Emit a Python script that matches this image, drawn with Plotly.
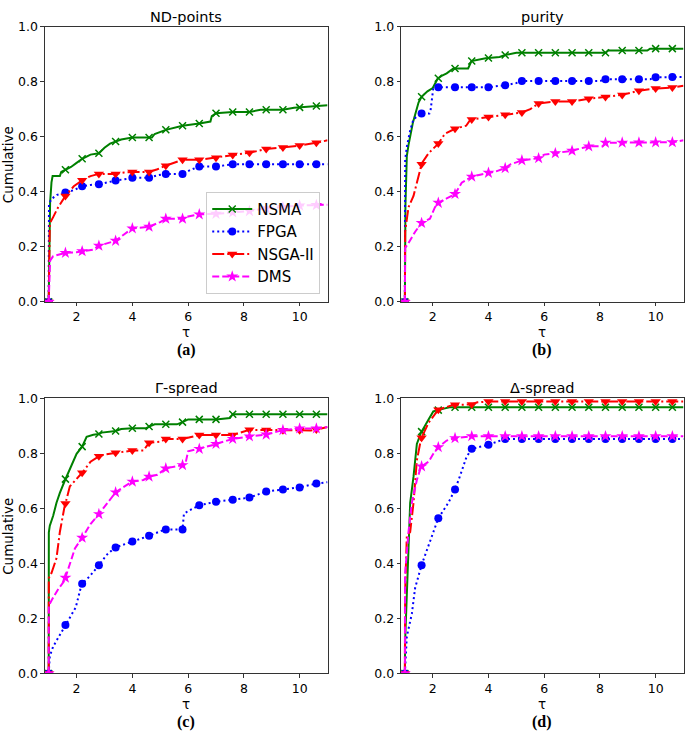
import numpy as np
import plotly.graph_objects as go

# ---------------- data ----------------
tick_x = [2, 4, 6, 8, 10]
tick_y = [0.0, 0.2, 0.4, 0.6, 0.8, 1.0]
series_names = ["NSMA", "FPGA", "NSGA-II", "DMS"]
panel_titles = ["ND-points", "purity", "Γ-spread", "Δ-spread"]
panel_tags = ["(a)", "(b)", "(c)", "(d)"]

# (a) ND-points
nd_nsma_tau = [1.0, 1.02, 1.05, 1.1, 1.14, 1.4, 1.45, 1.6, 1.8, 2.0, 2.2, 2.5, 2.8, 3.0, 3.2, 3.6, 4.0, 4.7, 4.8, 5.2,
               5.6, 5.8, 6.4, 6.8, 6.85, 7.0, 7.6, 8.2, 8.6, 9.4, 9.8, 10.4, 11.0]
nd_nsma = [0.0, 0.3, 0.36, 0.434, 0.457, 0.457, 0.472, 0.48, 0.49, 0.505, 0.52, 0.535, 0.54, 0.56, 0.575, 0.59, 0.597,
           0.597, 0.61, 0.625, 0.635, 0.64, 0.648, 0.655, 0.675, 0.685, 0.69, 0.69, 0.698, 0.698, 0.705, 0.71, 0.714]
nd_fpga_tau = [1.0, 1.01, 1.1, 1.3, 1.6, 1.9, 2.2, 2.5, 2.8, 3.1, 3.4, 3.8, 4.0, 4.6, 4.9, 5.2, 5.8, 6.1, 6.4, 7.0,
               7.3, 7.6, 11.0]
nd_fpga = [0.0, 0.356, 0.374, 0.389, 0.397, 0.406, 0.42, 0.425, 0.427, 0.435, 0.441, 0.447, 0.451, 0.451, 0.46, 0.465,
           0.465, 0.48, 0.492, 0.492, 0.497, 0.5, 0.5]
nd_nsga_tau = [1.0, 1.01, 1.04, 1.16, 1.34, 1.6, 1.9, 2.2, 2.5, 2.8, 3.4, 3.7, 4.0, 4.6, 4.9, 5.2, 5.6, 5.8, 6.4, 7.0,
               7.6, 8.2, 8.8, 9.4, 10.0, 10.6, 11.0]
nd_nsga = [0.0, 0.2, 0.285, 0.308, 0.344, 0.385, 0.42, 0.442, 0.457, 0.465, 0.465, 0.47, 0.472, 0.472, 0.482, 0.495,
           0.51, 0.516, 0.516, 0.524, 0.534, 0.542, 0.555, 0.561, 0.568, 0.578, 0.587]
nd_dms_tau = [1.0, 1.02, 1.05, 1.16, 1.6, 2.0, 2.2, 2.6, 2.8, 3.0, 3.4, 3.7, 4.0, 4.6, 5.0, 5.2, 5.8, 6.0, 6.4, 7.0,
              7.6, 8.2, 8.8, 9.4, 10.0, 11.0]
nd_dms = [0.0, 0.12, 0.15, 0.166, 0.178, 0.18, 0.184, 0.19, 0.204, 0.21, 0.222, 0.245, 0.267, 0.273, 0.29, 0.302,
          0.302, 0.31, 0.318, 0.32, 0.325, 0.33, 0.34, 0.345, 0.35, 0.353]

# (b) purity
pu_nsma_tau = [1.0, 1.02, 1.07, 1.13, 1.29, 1.49, 1.6, 1.81, 2.0, 2.17, 2.3, 2.5, 2.74, 3.27, 3.39, 3.9, 4.4, 4.6,
               5.0, 8.2, 8.3, 9.7, 9.8, 11.0]
pu_nsma = [0.0, 0.35, 0.53, 0.57, 0.652, 0.724, 0.745, 0.765, 0.777, 0.81, 0.82, 0.83, 0.848, 0.848, 0.875, 0.885,
           0.89, 0.897, 0.905, 0.905, 0.913, 0.913, 0.92, 0.92]
pu_fpga_tau = [1.0, 1.01, 1.07, 1.19, 1.31, 1.58, 1.88, 1.92, 2.02, 2.2, 4.0, 4.6, 5.0, 5.2, 8.0, 8.2, 9.8, 10.0, 11.0]
pu_fpga = [0.0, 0.516, 0.563, 0.623, 0.664, 0.684, 0.684, 0.694, 0.777, 0.78, 0.78, 0.787, 0.795, 0.802, 0.802,
           0.809, 0.809, 0.816, 0.817]
pu_nsga_tau = [1.0, 1.01, 1.13, 1.31, 1.61, 1.85, 2.2, 2.44, 2.8, 3.2, 3.35, 4.0, 4.6, 5.2, 5.5, 5.8, 6.4, 7.0, 7.6,
               8.2, 8.8, 9.4, 10.0, 10.6, 11.0]
pu_nsga = [0.0, 0.255, 0.344, 0.385, 0.504, 0.54, 0.575, 0.611, 0.629, 0.64, 0.662, 0.672, 0.68, 0.688, 0.70, 0.721,
           0.728, 0.728, 0.738, 0.744, 0.752, 0.767, 0.775, 0.779, 0.785]
pu_dms_tau = [1.0, 1.01, 1.13, 1.37, 1.61, 1.9, 2.08, 2.2, 2.5, 2.8, 3.04, 3.4, 3.7, 4.0, 4.3, 4.6, 4.8, 5.2, 5.8,
              6.0, 6.4, 7.0, 7.4, 7.6, 8.1, 8.2, 10.6, 11.0]
pu_dms = [0.0, 0.196, 0.214, 0.255, 0.288, 0.302, 0.344, 0.36, 0.376, 0.392, 0.433, 0.455, 0.462, 0.469, 0.475,
          0.486, 0.50, 0.514, 0.522, 0.535, 0.54, 0.549, 0.56, 0.565, 0.565, 0.578, 0.58, 0.587]

# (c) Gamma-spread
ga_nsma_tau = [1.0, 1.005, 1.04, 1.16, 1.28, 1.4, 1.58, 1.76, 2.0, 2.2, 2.36, 2.6, 2.8, 2.9, 3.4, 3.6, 4.0, 4.5, 4.6,
               4.8, 5.6, 5.8, 6.0, 7.0, 7.5, 7.6, 11.0]
ga_nsma = [0.0, 0.513, 0.537, 0.573, 0.62, 0.656, 0.701, 0.745, 0.798, 0.824, 0.86, 0.867, 0.87, 0.875, 0.881, 0.888,
           0.891, 0.891, 0.897, 0.905, 0.905, 0.913, 0.923, 0.923, 0.928, 0.942, 0.942]
ga_fpga_tau = [1.0, 1.04, 1.16, 1.56, 1.97, 2.18, 2.47, 2.77, 3.07, 3.37, 3.97, 4.57, 5.17, 5.8, 5.85, 6.0, 6.4, 7.0,
               7.6, 8.2, 8.8, 9.4, 10.0, 10.6, 11.0]
ga_fpga = [0.0, 0.063, 0.098, 0.169, 0.24, 0.324, 0.353, 0.389, 0.43, 0.457, 0.478, 0.499, 0.523, 0.523, 0.58, 0.59,
           0.611, 0.624, 0.631, 0.639, 0.661, 0.668, 0.676, 0.69, 0.695]
ga_nsga_tau = [1.0, 1.005, 1.1, 1.28, 1.4, 1.56, 1.76, 1.94, 2.2, 2.5, 2.8, 3.0, 3.4, 3.6, 4.0, 4.4, 4.6, 5.0, 5.2,
               5.8, 6.2, 6.4, 7.6, 8.0, 8.2, 10.4, 10.6, 11.0]
ga_nsga = [0.0, 0.347, 0.365, 0.419, 0.514, 0.602, 0.68, 0.701, 0.729, 0.769, 0.789, 0.795, 0.802, 0.805, 0.81,
           0.81, 0.838, 0.842, 0.852, 0.852, 0.86, 0.866, 0.866, 0.88, 0.885, 0.883, 0.886, 0.895]
ga_dms_tau = [1.0, 1.005, 1.16, 1.34, 1.56, 1.76, 1.94, 2.2, 2.5, 2.8, 3.1, 3.4, 3.6, 4.0, 4.4, 4.6, 4.9, 5.2, 5.8,
              5.9, 6.0, 6.4, 6.9, 7.0, 7.6, 8.2, 8.8, 9.4, 10.0, 10.6, 11.0]
ga_dms = [0.0, 0.247, 0.276, 0.306, 0.336, 0.395, 0.454, 0.493, 0.543, 0.579, 0.62, 0.658, 0.672, 0.697, 0.703,
          0.715, 0.722, 0.745, 0.757, 0.76, 0.807, 0.816, 0.83, 0.834, 0.852, 0.861, 0.868, 0.884, 0.89, 0.89, 0.895]

# (d) Delta-spread
de_nsma_tau = [1.0, 1.01, 1.19, 1.31, 1.43, 1.58, 1.85, 2.02, 2.4, 2.6, 11.0]
de_nsma = [0.0, 0.12, 0.62, 0.715, 0.834, 0.875, 0.923, 0.952, 0.962, 0.967, 0.967]
de_fpga_tau = [1.0, 1.07, 1.25, 1.37, 1.61, 1.85, 2.2, 2.56, 2.8, 2.97, 3.21, 3.4, 4.0, 4.6, 11.0]
de_fpga = [0.0, 0.134, 0.217, 0.312, 0.397, 0.466, 0.564, 0.62, 0.668, 0.715, 0.786, 0.816, 0.831, 0.852, 0.852]
de_nsga_tau = [1.0, 1.01, 1.07, 1.19, 1.31, 1.43, 1.58, 1.85, 2.2, 2.5, 2.74, 3.4, 3.6, 4.0, 11.0]
de_nsga = [0.0, 0.3, 0.502, 0.514, 0.62, 0.774, 0.852, 0.911, 0.958, 0.968, 0.976, 0.977, 0.985, 0.988, 0.988]
de_dms_tau = [1.0, 1.005, 1.13, 1.25, 1.43, 1.58, 1.85, 2.02, 2.2, 2.5, 2.8, 3.4, 11.0]
de_dms = [0.0, 0.36, 0.514, 0.62, 0.703, 0.751, 0.769, 0.798, 0.822, 0.846, 0.855, 0.862, 0.862]

panels = [
    [(nd_nsma_tau, nd_nsma), (nd_fpga_tau, nd_fpga), (nd_nsga_tau, nd_nsga), (nd_dms_tau, nd_dms)],
    [(pu_nsma_tau, pu_nsma), (pu_fpga_tau, pu_fpga), (pu_nsga_tau, pu_nsga), (pu_dms_tau, pu_dms)],
    [(ga_nsma_tau, ga_nsma), (ga_fpga_tau, ga_fpga), (ga_nsga_tau, ga_nsga), (ga_dms_tau, ga_dms)],
    [(de_nsma_tau, de_nsma), (de_fpga_tau, de_fpga), (de_nsga_tau, de_nsga), (de_dms_tau, de_dms)],
]

# ---------------- styles ----------------
colors = ["#008000", "#0000ff", "#ff0000", "#ff00ff"]
dashes = ["solid", "2px,3px", "12px,3px,2px,3px", "7px,3px"]
symbols = ["x-thin", "circle", "triangle-down", "star"]
msizes = [7, 8, 9, 9]
marker_tau = np.round(np.arange(1.0, 10.61, 0.6), 2)

W, H = 685, 737
# panel boxes in pixels: (left, right, top, bottom)
boxes = [(45, 328, 19, 300), (401.7, 684.5, 19, 300), (45, 328, 398.3, 679.3), (401.7, 684.5, 398.3, 679.3)]

fig = go.Figure()
font_main = "DejaVu Sans"


def marker_style(s):
    mk = dict(symbol=symbols[s], size=msizes[s], color=colors[s])
    if symbols[s] == "x-thin":
        mk["line"] = dict(color=colors[s], width=1.5)
    else:
        mk["line"] = dict(width=0)
    return mk


for p, series in enumerate(panels):
    ax = "" if p == 0 else str(p + 1)
    for s, (tau, vals) in enumerate(series):
        fig.add_trace(go.Scatter(
            x=tau, y=vals, mode="lines", xaxis="x" + ax, yaxis="y" + ax,
            line=dict(color=colors[s], width=2, dash=dashes[s]), showlegend=False, hoverinfo="skip"))
        mk_vals = np.interp(marker_tau, tau, vals)
        fig.add_trace(go.Scatter(
            x=marker_tau, y=mk_vals, mode="markers", xaxis="x" + ax, yaxis="y" + ax,
            marker=marker_style(s), showlegend=False, hoverinfo="skip"))

# legend entries
for s, name in enumerate(series_names):
    fig.add_trace(go.Scatter(x=[None], y=[None], mode="lines+markers", name=name,
                             line=dict(color=colors[s], width=2, dash=dashes[s]), marker=marker_style(s),
                             xaxis="x", yaxis="y"))

layout = dict(
    width=W, height=H, margin=dict(l=0, r=0, t=0, b=0),
    paper_bgcolor="white", plot_bgcolor="white",
    font=dict(family=font_main, color="black"),
    legend=dict(x=320.7 / W, y=1 - 291.7 / H, xanchor="right", yanchor="bottom",
                bgcolor="rgba(255,255,255,0.8)", bordercolor="#cccccc", borderwidth=1,
                font=dict(size=15, family=font_main), tracegroupgap=0, itemwidth=40),
)
annotations = []
for p in range(4):
    l, r, t, b = boxes[p]
    ax = "" if p == 0 else str(p + 1)
    layout["xaxis" + ax] = dict(
        domain=[l / W, r / W], anchor="y" + ax, range=[0.865, 11.0],
        tickvals=tick_x, ticks="outside", ticklen=3.5, tickwidth=1, tickcolor="#333",
        showline=True, linecolor="#333", linewidth=1, mirror=True,
        showgrid=False, zeroline=False, tickfont=dict(size=12.5, family=font_main))
    layout["yaxis" + ax] = dict(
        domain=[1 - b / H, 1 - t / H], anchor="x" + ax, range=[0, 1.0],
        tickvals=tick_y, tickformat=".1f", ticks="outside", ticklen=3.5, tickwidth=1, tickcolor="#333",
        showline=True, linecolor="#333", linewidth=1, mirror=True,
        showgrid=False, zeroline=False, tickfont=dict(size=12.5, family=font_main))
    cx = (l + r) / 2 / W
    annotations.append(dict(text=panel_titles[p], x=cx, y=1 - (t - 10) / H, xref="paper", yref="paper",
                            xanchor="center", yanchor="middle", showarrow=False,
                            font=dict(size=14.5, family=font_main)))
    annotations.append(dict(text="τ", x=cx, y=1 - (b + 31) / H, xref="paper", yref="paper",
                            xanchor="center", yanchor="middle", showarrow=False, height=12,
                            font=dict(size=13.5, family=font_main)))
    annotations.append(dict(text="<b>" + panel_tags[p] + "</b>", x=cx, y=1 - (b + 49.5) / H, xref="paper",
                            yref="paper", xanchor="center", yanchor="middle", showarrow=False,
                            font=dict(size=16, family="Liberation Serif")))
    if p in (0, 2):
        annotations.append(dict(text="Cumulative", x=8 / W, y=1 - (t + b) / 2 / H, xref="paper", yref="paper",
                                xanchor="center", yanchor="middle", showarrow=False, textangle=-90,
                                font=dict(size=13.5, family=font_main)))
layout["annotations"] = annotations
fig.update_layout(**layout)
fig.write_html("out.html", config={"displayModeBar": False},
               post_script="document.body.style.margin='0';document.body.style.overflow='hidden';")
